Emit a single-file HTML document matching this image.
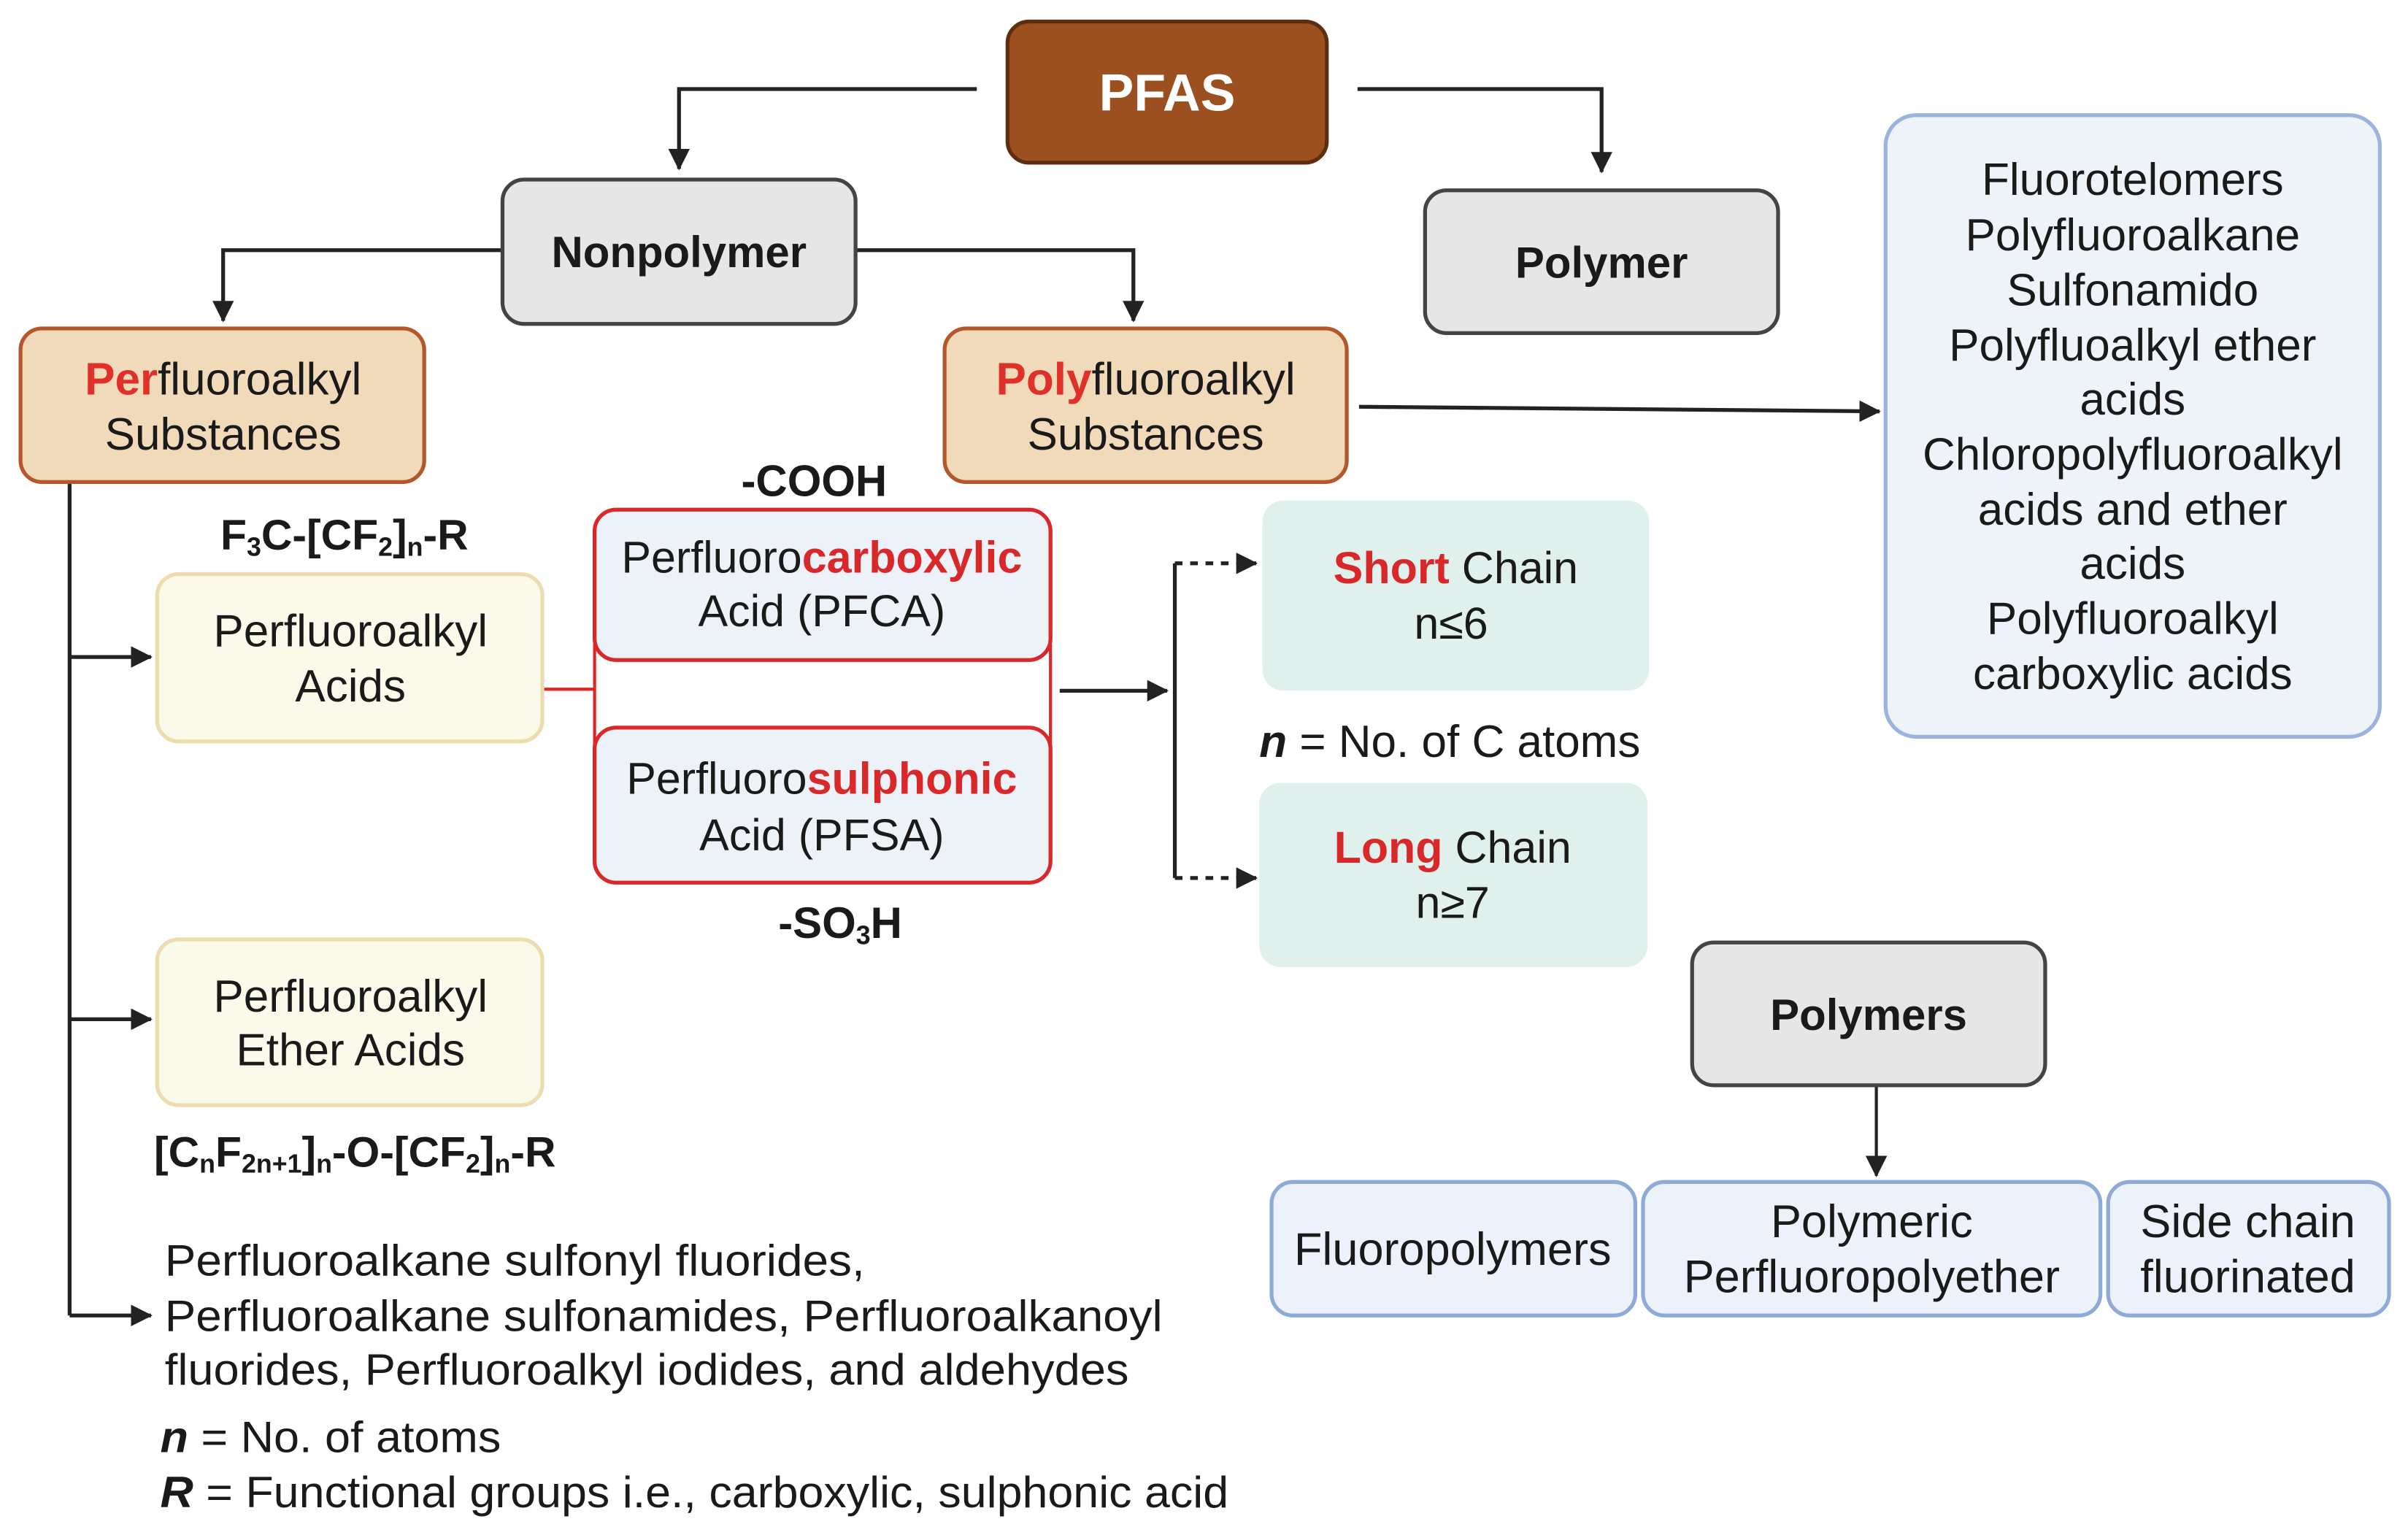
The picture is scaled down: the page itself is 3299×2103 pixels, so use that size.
<!DOCTYPE html>
<html><head><meta charset="utf-8"><style>
html,body{margin:0;padding:0;background:#fff;}
svg{display:block;}
text{font-family:"Liberation Sans",sans-serif;fill:#1a1a1a;}
</style></head><body>
<svg width="3299" height="2103" viewBox="0 0 1568 1000" xmlns="http://www.w3.org/2000/svg">
<defs>
<marker id="ah2" markerWidth="14" markerHeight="14" refX="13" refY="7" orient="auto" markerUnits="userSpaceOnUse">
<path d="M0,0 L14,7 L0,14 z" fill="#222"/></marker>
</defs>
<g stroke="#222" stroke-width="2.5" fill="none">
<polyline points="636,58 442,58 442,110" marker-end="url(#ah2)"/>
<polyline points="884,58 1043,58 1043,112" marker-end="url(#ah2)"/>
<polyline points="327,163 145,163 145,209" marker-end="url(#ah2)"/>
<polyline points="557,163 738,163 738,209" marker-end="url(#ah2)"/>
<line x1="885" y1="265" x2="1224" y2="268" marker-end="url(#ah2)"/>
<line x1="45" y1="314" x2="45" y2="857"/>
<line x1="45" y1="428" x2="98" y2="428" marker-end="url(#ah2)"/>
<line x1="45" y1="664" x2="98" y2="664" marker-end="url(#ah2)"/>
<line x1="45" y1="857" x2="98" y2="857" marker-end="url(#ah2)"/>
<line x1="690" y1="450" x2="760" y2="450" marker-end="url(#ah2)"/>
<line x1="765" y1="367" x2="765" y2="572"/>
<line x1="765" y1="367" x2="818" y2="367" stroke-dasharray="5,5" marker-end="url(#ah2)"/>
<line x1="765" y1="572" x2="818" y2="572" stroke-dasharray="5,5" marker-end="url(#ah2)"/>
<line x1="1222" y1="707" x2="1222" y2="766" stroke-width="2" marker-end="url(#ah2)"/>
</g>
<line x1="353" y1="449" x2="387" y2="449" stroke="#d9282a" stroke-width="2"/>
<line x1="387" y1="420" x2="387" y2="485" stroke="#d9282a" stroke-width="2"/>
<line x1="684" y1="420" x2="684" y2="485" stroke="#d9282a" stroke-width="2"/>

<rect x="656" y="14" width="208" height="92" rx="14" fill="#9c501f" stroke="#5e2e0e" stroke-width="2.5"/>
<text x="760" y="72" text-anchor="middle" font-size="34" font-weight="bold" style="fill:#fff">PFAS</text>

<rect x="327" y="117" width="230" height="94" rx="14" fill="#e6e6e6" stroke="#444" stroke-width="2.5"/>
<text x="442" y="174" text-anchor="middle" font-size="28.5" font-weight="bold">Nonpolymer</text>
<rect x="928" y="124" width="230" height="93" rx="14" fill="#e6e6e6" stroke="#444" stroke-width="2.5"/>
<text x="1043" y="181" text-anchor="middle" font-size="28.5" font-weight="bold">Polymer</text>

<rect x="13" y="214" width="263" height="100" rx="14" fill="#f1dab9" stroke="#b5572a" stroke-width="2.5"/>
<text x="145" y="257" text-anchor="middle" font-size="29.5"><tspan style="fill:#e0302a" font-weight="bold">Per</tspan>fluoroalkyl</text>
<text x="145" y="293" text-anchor="middle" font-size="29.5">Substances</text>
<rect x="615" y="214" width="262" height="100" rx="14" fill="#f1dab9" stroke="#b5572a" stroke-width="2.5"/>
<text x="746" y="257" text-anchor="middle" font-size="29.5"><tspan style="fill:#e0302a" font-weight="bold">Poly</tspan>fluoroalkyl</text>
<text x="746" y="293" text-anchor="middle" font-size="29.5">Substances</text>

<rect x="1228" y="75" width="322" height="405" rx="20" fill="#eef3fa" stroke="#9ab4dc" stroke-width="2.5"/>
<g font-size="29.5" text-anchor="middle">
<text x="1389" y="127">Fluorotelomers</text>
<text x="1389" y="163">Polyfluoroalkane</text>
<text x="1389" y="199">Sulfonamido</text>
<text x="1389" y="235">Polyfluoalkyl ether</text>
<text x="1389" y="270">acids</text>
<text x="1389" y="306">Chloropolyfluoroalkyl</text>
<text x="1389" y="342">acids and ether</text>
<text x="1389" y="377">acids</text>
<text x="1389" y="413">Polyfluoroalkyl</text>
<text x="1389" y="449">carboxylic acids</text>
</g>

<text x="224" y="358" text-anchor="middle" font-size="28" font-weight="bold">F<tspan font-size="17" dy="4">3</tspan><tspan dy="-4">C-[CF</tspan><tspan font-size="17" dy="4">2</tspan><tspan dy="-4">]</tspan><tspan font-size="17" dy="4">n</tspan><tspan dy="-4">-R</tspan></text>

<rect x="102" y="374" width="251" height="109" rx="14" fill="#fbf9ea" stroke="#ecdcae" stroke-width="2.5"/>
<text x="228" y="421" text-anchor="middle" font-size="29.5">Perfluoroalkyl</text>
<text x="228" y="457" text-anchor="middle" font-size="29.5">Acids</text>

<text x="530" y="323" text-anchor="middle" font-size="28.5" font-weight="bold">-COOH</text>
<rect x="387" y="332" width="297" height="98" rx="14" fill="#edf2f9" stroke="#d9282a" stroke-width="2.5"/>
<text x="535" y="373" text-anchor="middle" font-size="29">Perfluoro<tspan style="fill:#d9282a" font-weight="bold">carboxylic</tspan></text>
<text x="535" y="408" text-anchor="middle" font-size="29">Acid (PFCA)</text>
<rect x="387" y="474" width="297" height="101" rx="14" fill="#edf2f9" stroke="#d9282a" stroke-width="2.5"/>
<text x="535" y="517" text-anchor="middle" font-size="29">Perfluoro<tspan style="fill:#d9282a" font-weight="bold">sulphonic</tspan></text>
<text x="535" y="554" text-anchor="middle" font-size="29">Acid (PFSA)</text>
<text x="547" y="611" text-anchor="middle" font-size="28.5" font-weight="bold">-SO<tspan font-size="17" dy="4">3</tspan><tspan dy="-4">H</tspan></text>

<rect x="822" y="326" width="252" height="124" rx="14" fill="#dff0ed"/>
<text x="948" y="380" text-anchor="middle" font-size="29"><tspan style="fill:#d9282a" font-weight="bold">Short</tspan> Chain</text>
<text x="945" y="416" text-anchor="middle" font-size="29">n≤6</text>
<text x="820" y="493" font-size="29.5"><tspan font-weight="bold" font-style="italic">n</tspan> = No. of C atoms</text>
<rect x="820" y="510" width="253" height="120" rx="14" fill="#dff0ed"/>
<text x="946" y="562" text-anchor="middle" font-size="29"><tspan style="fill:#d9282a" font-weight="bold">Long</tspan> Chain</text>
<text x="946" y="598" text-anchor="middle" font-size="29">n≥7</text>

<rect x="1102" y="614" width="230" height="93" rx="14" fill="#e6e6e6" stroke="#444" stroke-width="2.5"/>
<text x="1217" y="671" text-anchor="middle" font-size="28.5" font-weight="bold">Polymers</text>

<g fill="#edf2fa" stroke="#8eaad6" stroke-width="2.5">
<rect x="828" y="770" width="237" height="87" rx="14"/>
<rect x="1070" y="770" width="298" height="87" rx="14"/>
<rect x="1373" y="770" width="183" height="87" rx="14"/>
</g>
<g font-size="30" text-anchor="middle">
<text x="946" y="824">Fluoropolymers</text>
<text x="1219" y="806">Polymeric</text>
<text x="1219" y="842">Perfluoropolyether</text>
<text x="1464" y="806">Side chain</text>
<text x="1464" y="842">fluorinated</text>
</g>

<rect x="102" y="612" width="251" height="108" rx="14" fill="#fbf9ea" stroke="#ecdcae" stroke-width="2.5"/>
<text x="228" y="659" text-anchor="middle" font-size="29.5">Perfluoroalkyl</text>
<text x="228" y="694" text-anchor="middle" font-size="29.5">Ether Acids</text>

<text x="100" y="760" font-size="28" font-weight="bold">[C<tspan font-size="17" dy="4">n</tspan><tspan dy="-4">F</tspan><tspan font-size="17" dy="4">2n+1</tspan><tspan dy="-4">]</tspan><tspan font-size="17" dy="4">n</tspan><tspan dy="-4">-O-[CF</tspan><tspan font-size="17" dy="4">2</tspan><tspan dy="-4">]</tspan><tspan font-size="17" dy="4">n</tspan><tspan dy="-4">-R</tspan></text>

<g font-size="28.5">
<text x="107" y="831" textLength="456" lengthAdjust="spacingAndGlyphs">Perfluoroalkane sulfonyl fluorides,</text>
<text x="107" y="867" textLength="650" lengthAdjust="spacingAndGlyphs">Perfluoroalkane sulfonamides, Perfluoroalkanoyl</text>
<text x="107" y="902" textLength="628" lengthAdjust="spacingAndGlyphs">fluorides, Perfluoroalkyl iodides, and aldehydes</text>
<text x="104" y="946" textLength="222" lengthAdjust="spacingAndGlyphs"><tspan font-weight="bold" font-style="italic">n</tspan> = No. of atoms</text>
<text x="104" y="982" textLength="696" lengthAdjust="spacingAndGlyphs"><tspan font-weight="bold" font-style="italic">R</tspan> = Functional groups i.e., carboxylic, sulphonic acid</text>
</g>
</svg>
</body></html>
